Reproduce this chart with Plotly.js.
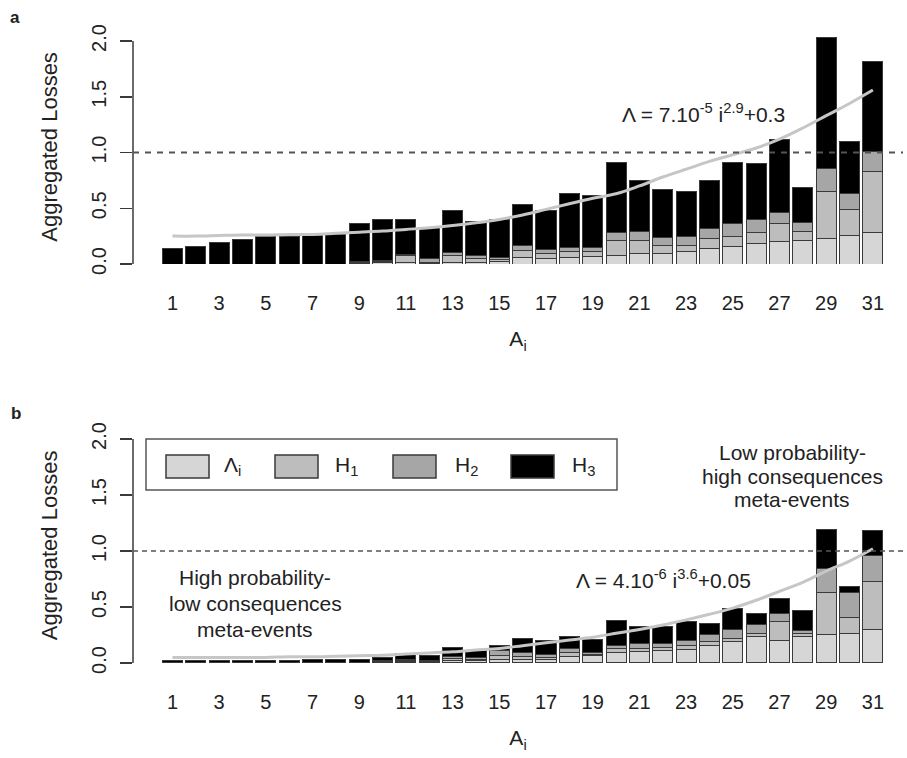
<!DOCTYPE html>
<html>
<head>
<meta charset="utf-8">
<script src="https://cdn.plot.ly/plotly-3.0.1.min.js"></script>
<style>html,body{margin:0;padding:0;background:#fff;}#chart{width:907px;height:758px;}</style>
</head>
<body>
<div id="chart"></div>
<script>
// ---- data ----
const categories = [1,2,3,4,5,6,7,8,9,10,11,12,13,14,15,16,17,18,19,20,21,22,23,24,25,26,27,28,29,30,31];
const xTickVals = [1,3,5,7,9,11,13,15,17,19,21,23,25,27,29,31];
const xTickText = ["1","3","5","7","9","11","13","15","17","19","21","23","25","27","29","31"];
const yTickVals = [0,0.5,1,1.5,2];
const yTickText = ["0.0","0.5","1.0","1.5","2.0"];

// panel a
const lambdaA = [0,0,0,0,0,0,0,0,0.005,0.01,0.015,0.005,0.015,0.01,0.02,0.06,0.05,0.06,0.07,0.08,0.09,0.096,0.11,0.14,0.16,0.18,0.20,0.215,0.23,0.26,0.28];
const h1A     = [0,0,0,0,0,0,0,0,0.005,0.015,0.06,0.005,0.065,0.04,0.02,0.065,0.04,0.05,0.04,0.135,0.125,0.074,0.06,0.09,0.09,0.10,0.16,0.075,0.42,0.225,0.55];
const h2A     = [0,0,0,0,0,0,0,0,0.01,0.01,0.01,0.04,0.02,0.03,0.02,0.045,0.04,0.04,0.04,0.065,0.075,0.07,0.08,0.09,0.11,0.12,0.10,0.08,0.21,0.145,0.18];
const h3A     = [0.14,0.155,0.19,0.22,0.245,0.25,0.26,0.265,0.34,0.36,0.315,0.28,0.38,0.30,0.335,0.36,0.35,0.48,0.46,0.63,0.46,0.43,0.40,0.43,0.55,0.50,0.66,0.32,1.17,0.47,0.81];
const curveA  = [0.25,0.25,0.255,0.26,0.26,0.265,0.265,0.275,0.285,0.295,0.31,0.325,0.345,0.37,0.40,0.44,0.49,0.54,0.59,0.63,0.70,0.78,0.85,0.92,0.98,1.04,1.12,1.22,1.33,1.44,1.56];

// panel b
const lambdaB = [0,0,0,0,0,0,0,0,0,0.01,0.015,0.01,0.02,0.02,0.03,0.033,0.03,0.056,0.07,0.09,0.10,0.11,0.12,0.16,0.19,0.235,0.20,0.235,0.25,0.265,0.295];
const h1B     = [0,0,0,0,0,0,0,0,0,0.005,0.01,0.005,0.02,0.01,0.035,0.027,0.02,0.034,0.01,0.04,0.03,0.03,0.04,0.03,0.03,0.03,0.17,0.03,0.38,0.145,0.435];
const h2B     = [0,0,0,0,0,0,0,0,0,0.005,0.01,0.01,0.02,0.02,0.045,0.03,0.03,0.04,0.01,0.03,0.04,0.03,0.04,0.06,0.075,0.075,0.07,0.025,0.21,0.22,0.23];
const h3B     = [0.02,0.02,0.02,0.025,0.025,0.025,0.03,0.03,0.03,0.03,0.05,0.04,0.08,0.065,0.045,0.13,0.12,0.105,0.12,0.215,0.16,0.155,0.17,0.10,0.195,0.10,0.14,0.18,0.35,0.05,0.22];
const curveB  = [0.05,0.05,0.05,0.05,0.05,0.055,0.055,0.06,0.065,0.07,0.08,0.09,0.10,0.115,0.13,0.155,0.18,0.205,0.23,0.265,0.30,0.34,0.385,0.435,0.49,0.56,0.64,0.72,0.82,0.91,1.02];

const seriesNames = ["Λ<sub>i</sub>","H<sub>1</sub>","H<sub>2</sub>","H<sub>3</sub>"];
const seriesColors = ["#d6d6d6","#bdbdbd","#a6a6a6","#000000"];

// ---- layout helpers ----
const W = 907, H = 758, ML = 133, MR = 4;
const PW = W - ML - MR;
const px = v => (v - ML) / PW;       // pixel x -> paper x
const py = v => (H - v) / H;         // pixel y -> paper y
const FONT = "Liberation Sans, Arial, Helvetica, sans-serif";
const TXT = "#222";
const LINE = "#3a3a3a";

function bars(vals, axis) {
  const arr = [];
  vals.forEach((v, k) => {
    arr.push({
      type: "bar", x: categories, y: v, name: seriesNames[k],
      xaxis: axis[0], yaxis: axis[1],
      marker: {color: seriesColors[k], line: {color: LINE, width: 1}},
      showlegend: false, hoverinfo: "x+y+name"
    });
  });
  return arr;
}

const traces = [
  ...bars([lambdaA, h1A, h2A, h3A], ["x", "y"]),
  {type: "scatter", mode: "lines", x: categories, y: curveA, xaxis: "x", yaxis: "y",
   line: {color: "#c6c6c6", width: 3, shape: "spline"}, showlegend: false, hoverinfo: "skip"},
  ...bars([lambdaB, h1B, h2B, h3B], ["x2", "y2"]),
  {type: "scatter", mode: "lines", x: categories, y: curveB, xaxis: "x2", yaxis: "y2",
   line: {color: "#c6c6c6", width: 3, shape: "spline"}, showlegend: false, hoverinfo: "skip"}
];

const xRange = [-0.69, 32.29];
const yRange = [0, 2.1];

function xAxis(anchor) {
  return {
    anchor: anchor, domain: [0, 1], range: xRange, showgrid: false, zeroline: false,
    showline: false, ticks: "", tickmode: "array", tickvals: xTickVals, ticktext: xTickText,
    ticklabelstandoff: 25, tickfont: {family: FONT, size: 20, color: TXT},
    title: {text: "A<sub>i</sub>", font: {family: FONT, size: 21, color: TXT}, standoff: 18}
  };
}
function yAxis(anchor, dom) {
  return {
    anchor: anchor, domain: dom, range: yRange, showgrid: false, zeroline: false,
    showline: false, ticks: "outside", ticklen: 12, tickwidth: 1.5, tickcolor: LINE,
    tickmode: "array", tickvals: yTickVals, ticktext: yTickText, tickangle: -90,
    tickfont: {family: FONT, size: 20, color: TXT}, ticklabelstandoff: 6,
    title: {text: "Aggregated Losses", font: {family: FONT, size: 22, color: TXT}, standoff: 24}
  };
}

const domA = [py(264), py(264 - 2.1 * 111.5)];
const domB = [py(663), py(663 - 2.1 * 112)];

const shapes = [
  // y axis spines (0 to 2.0)
  {type: "line", xref: "paper", yref: "y", x0: 0, x1: 0, y0: 0, y1: 2, line: {color: LINE, width: 1.5}},
  {type: "line", xref: "paper", yref: "y2", x0: 0, x1: 0, y0: 0, y1: 2, line: {color: LINE, width: 1.5}},
  // reference lines at 1.0
  {type: "line", xref: "paper", yref: "y", x0: 0, x1: 1, y0: 1, y1: 1, line: {color: "#555", width: 2, dash: "6px,6px"}},
  {type: "line", xref: "paper", yref: "y2", x0: 0, x1: 1, y0: 1, y1: 1, line: {color: "#555", width: 1.5, dash: "5px,4px"}},
  // legend box
  {type: "rect", xref: "paper", yref: "paper", x0: px(146), x1: px(617), y0: py(490), y1: py(439), line: {color: "#555", width: 1.5}, fillcolor: "rgba(255,255,255,0)"}
];
const swatchX = [166, 275, 393, 511];
const labelX = [222, 333, 453, 570];
swatchX.forEach((sx, k) => {
  shapes.push({type: "rect", xref: "paper", yref: "paper", x0: px(sx), x1: px(sx + 43), y0: py(478), y1: py(455),
               line: {color: LINE, width: 1.5}, fillcolor: seriesColors[k]});
});

function note(text, x, y, size, extra) {
  return Object.assign({text: text, xref: "paper", yref: "paper", x: px(x), y: py(y), xanchor: "center", yanchor: "middle",
                        showarrow: false, font: {family: FONT, size: size, color: TXT}}, extra || {});
}

const annotations = [
  note("<b>a</b>", 15, 17, 17),
  note("<b>b</b>", 16, 413, 17),
  note("Λ = 7.10<sup>-5</sup> i<sup>2.9</sup>+0.3", 703, 113, 21),
  note("Λ = 4.10<sup>-6</sup> i<sup>3.6</sup>+0.05", 663, 579, 21),
  note("High probability-", 255, 577, 21),
  note("low consequences", 255, 603, 21),
  note("meta-events", 255, 629, 21),
  note("Low probability-", 792, 453, 21),
  note("high consequences", 792, 476, 21),
  note("meta-events", 792, 499, 21)
];
labelX.forEach((lx, k) => {
  annotations.push(note(seriesNames[k], lx, 466, 21, {xanchor: "left"}));
});

const layout = {
  width: W, height: H, margin: {l: ML, r: MR, t: 0, b: 0},
  paper_bgcolor: "#fff", plot_bgcolor: "#fff",
  barmode: "stack", bargap: 0.14,
  showlegend: false,
  xaxis: xAxis("y"), yaxis: yAxis("x", domA),
  xaxis2: xAxis("y2"), yaxis2: yAxis("x2", domB),
  shapes: shapes, annotations: annotations,
  font: {family: FONT, color: TXT}
};

Plotly.newPlot("chart", traces, layout, {displayModeBar: false, staticPlot: true});
</script>
</body>
</html>
